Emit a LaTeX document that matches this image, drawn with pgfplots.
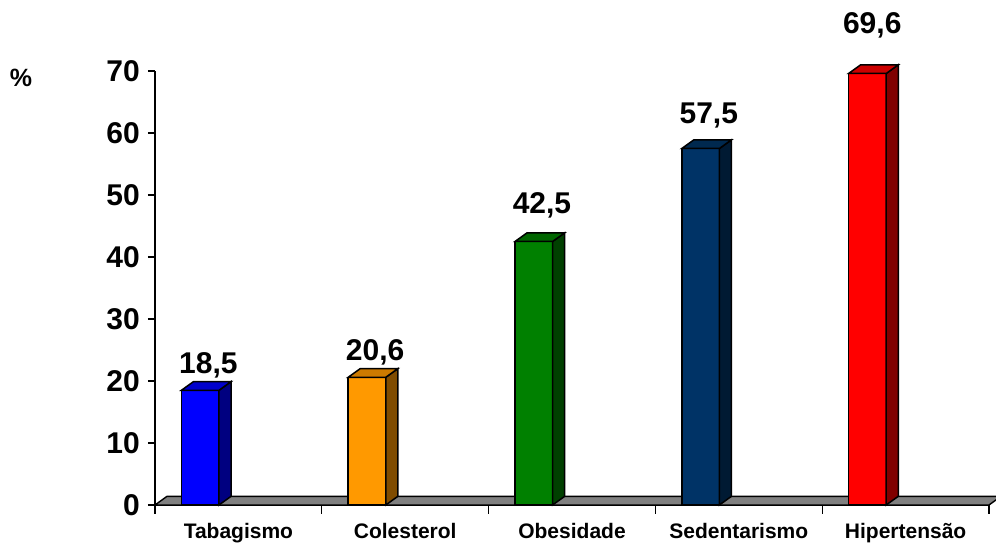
\documentclass[border=0pt]{standalone}
\usepackage{pgfplots}
\pgfplotsset{compat=1.18}
\usepackage{fontspec}
\setmainfont{Liberation Sans}

% bar colours: front, top, side
\definecolor{tabF}{HTML}{0000FF}\definecolor{tabT}{HTML}{0000CC}\definecolor{tabS}{HTML}{000080}
\definecolor{colF}{HTML}{FF9900}\definecolor{colT}{HTML}{CC7A00}\definecolor{colS}{HTML}{804C00}
\definecolor{obeF}{HTML}{008000}\definecolor{obeT}{HTML}{006600}\definecolor{obeS}{HTML}{004000}
\definecolor{sedF}{HTML}{003366}\definecolor{sedT}{HTML}{00294F}\definecolor{sedS}{HTML}{001A33}
\definecolor{hipF}{HTML}{FF0000}\definecolor{hipT}{HTML}{CC0000}\definecolor{hipS}{HTML}{800000}
\definecolor{floorgray}{HTML}{808080}

\begin{document}
\begin{tikzpicture}
\begin{axis}[
    name=ax,
    scale only axis,
    width=834pt, height=434pt,
    xmin=-0.5, xmax=4.5,
    ymin=0, ymax=70,
    clip=false,
    axis lines*=left,
    axis line style={line width=1.6pt},
    every tick/.style={black, line width=1.4pt},
    tick align=outside,
    xtick={0,1,2,3,4},
    xticklabels={Tabagismo,Colesterol,Obesidade,Sedentarismo,Hipertensão},
    major x tick style={draw=none},
    minor xtick={-0.5,0.5,1.5,2.5,3.5,4.5},
    minor tick length=9pt,
    ytick={0,10,...,70},
    major tick length=7pt,
    /pgf/number format/assume math mode=true,
    xticklabel style={font=\fontsize{21}{21}\selectfont\bfseries, anchor=base, yshift=-26.5pt},
    yticklabel style={font=\fontsize{30}{30}\selectfont\bfseries, inner sep=0pt, xshift=-8pt},
]
% floor
\addplot[fill=floorgray, draw=black, line width=1.4pt] coordinates {(-0.5,0) (-0.428,1.4) (4.572,1.4) (4.5,0)} -- cycle;

% Tabagismo 18,5
\addplot[ybar, bar width=38pt, bar shift=-38pt, fill=tabF, draw=black, line width=1.5pt] coordinates {(0,18.5)};
\addplot[fill=tabS, draw=black, line width=1.5pt] coordinates {(-0.1163,0) (-0.044,1.4) (-0.044,19.9) (-0.1163,18.5)} -- cycle;
\addplot[fill=tabT, draw=black, line width=1.5pt] coordinates {(-0.3417,18.5) (-0.2694,19.9) (-0.044,19.9) (-0.1163,18.5)} -- cycle;

% Colesterol 20,6
\addplot[ybar, bar width=38pt, bar shift=-38pt, fill=colF, draw=black, line width=1.5pt] coordinates {(1,20.6)};
\addplot[fill=colS, draw=black, line width=1.5pt] coordinates {(0.8837,0) (0.956,1.4) (0.956,22.0) (0.8837,20.6)} -- cycle;
\addplot[fill=colT, draw=black, line width=1.5pt] coordinates {(0.6583,20.6) (0.7306,22.0) (0.956,22.0) (0.8837,20.6)} -- cycle;

% Obesidade 42,5
\addplot[ybar, bar width=38pt, bar shift=-38pt, fill=obeF, draw=black, line width=1.5pt] coordinates {(2,42.5)};
\addplot[fill=obeS, draw=black, line width=1.5pt] coordinates {(1.8837,0) (1.956,1.4) (1.956,43.9) (1.8837,42.5)} -- cycle;
\addplot[fill=obeT, draw=black, line width=1.5pt] coordinates {(1.6583,42.5) (1.7306,43.9) (1.956,43.9) (1.8837,42.5)} -- cycle;

% Sedentarismo 57,5
\addplot[ybar, bar width=38pt, bar shift=-38pt, fill=sedF, draw=black, line width=1.5pt] coordinates {(3,57.5)};
\addplot[fill=sedS, draw=black, line width=1.5pt] coordinates {(2.8837,0) (2.956,1.4) (2.956,58.9) (2.8837,57.5)} -- cycle;
\addplot[fill=sedT, draw=black, line width=1.5pt] coordinates {(2.6583,57.5) (2.7306,58.9) (2.956,58.9) (2.8837,57.5)} -- cycle;

% Hipertensao 69,6
\addplot[ybar, bar width=38pt, bar shift=-38pt, fill=hipF, draw=black, line width=1.5pt] coordinates {(4,69.6)};
\addplot[fill=hipS, draw=black, line width=1.5pt] coordinates {(3.8837,0) (3.956,1.4) (3.956,71.0) (3.8837,69.6)} -- cycle;
\addplot[fill=hipT, draw=black, line width=1.5pt] coordinates {(3.6583,69.6) (3.7306,71.0) (3.956,71.0) (3.8837,69.6)} -- cycle;

% value labels
\begin{scope}[every node/.style={anchor=base, font=\fontsize{30}{30}\selectfont\bfseries, inner sep=0pt}]
\node at (axis cs:-0.18,21.29) {18,5};
\node at (axis cs:0.82,23.34) {20,6};
\node at (axis cs:1.82,47.05) {42,5};
\node at (axis cs:2.82,61.56) {57,5};
\node at (axis cs:3.80,76.0) {69,6};
\end{scope}
\node[anchor=base, font=\fontsize{25}{25}\selectfont\bfseries, inner sep=0pt] at (axis cs:-1.303,67.47) {\%};
\end{axis}
\pgfresetboundingbox
\path ([xshift=-155pt,yshift=-41pt]ax.south west) rectangle ([xshift=7pt,yshift=71pt]ax.north east);
\end{tikzpicture}
\end{document}
